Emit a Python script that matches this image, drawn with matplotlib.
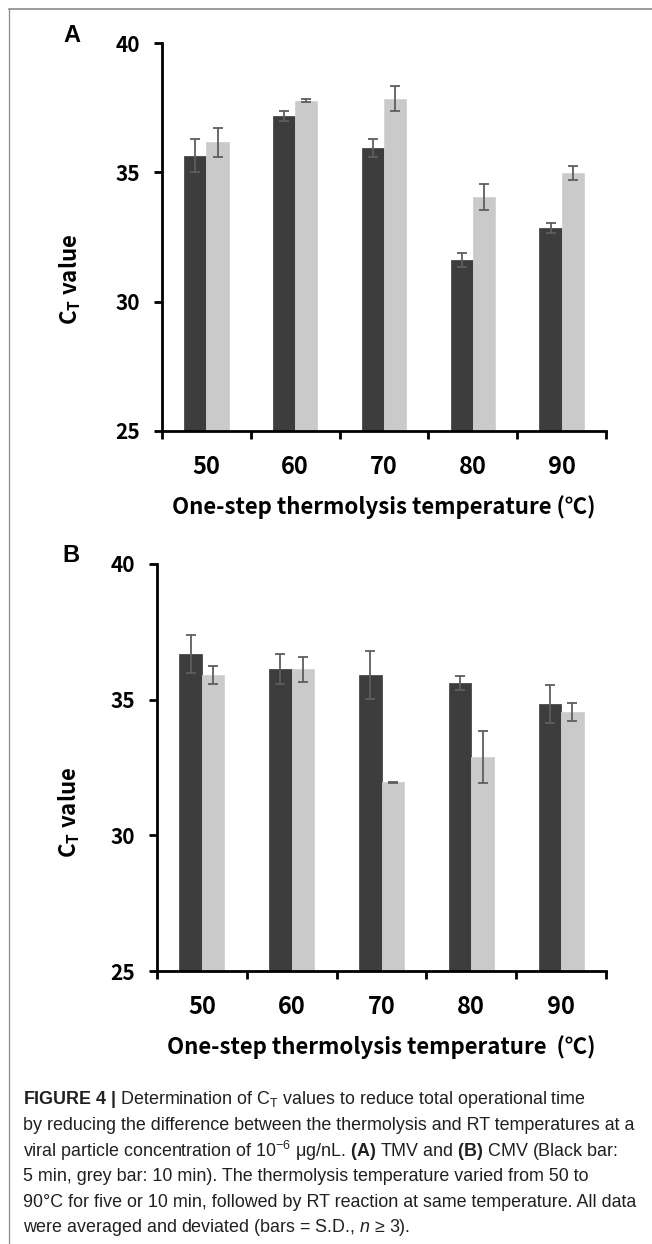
import matplotlib
matplotlib.use("Agg")
import matplotlib.pyplot as plt
import numpy as np
from matplotlib.lines import Line2D

# ---- data ----
temps = ["50", "60", "70", "80", "90"]

# panel A: TMV
a_5min = [35.65, 37.19, 35.94, 31.61, 32.86]
a_5min_sd = [0.62, 0.20, 0.33, 0.27, 0.19]
a_10min = [36.16, 37.77, 37.85, 34.03, 34.98]
a_10min_sd = [0.57, 0.05, 0.47, 0.50, 0.28]

# panel B: CMV
b_5min = [36.69, 36.13, 35.91, 35.63, 34.84]
b_5min_sd = [0.69, 0.54, 0.90, 0.26, 0.69]
b_10min = [35.91, 36.12, 31.95, 32.88, 34.56]
b_10min_sd = [0.33, 0.47, 0.03, 0.96, 0.33]

DARK = "#3d3d3d"
LIGHT = "#cacaca"
ERR = "#5e5e5e"
CHART_FONT = ["Noto Sans CJK KR", "DejaVu Sans"]

plt.rcParams["mathtext.fontset"] = "custom"
plt.rcParams["mathtext.rm"] = "Liberation Sans"
plt.rcParams["mathtext.it"] = "Liberation Sans:italic"
plt.rcParams["mathtext.bf"] = "Liberation Sans:bold"

W, H = 652, 1244
fig = plt.figure(figsize=(W / 100, H / 100), dpi=100)


def px_axes(left, right, top, bottom):
    return fig.add_axes([left / W, 1 - bottom / H, (right - left) / W, (bottom - top) / H])


def draw_panel(ax, black, black_sd, grey, grey_sd, xlabel, ylabel_x, xlabel_pad):
    x = np.arange(len(temps))
    w = 0.25
    ax.bar(x - w / 2, black, w, color=DARK, edgecolor="#4a4a4a", linewidth=0.6, zorder=2)
    ax.bar(x + w / 2, grey, w, color=LIGHT, edgecolor="#d2d2d2", linewidth=0.6, zorder=2)
    ekw = dict(fmt="none", ecolor=ERR, elinewidth=1.3, capsize=3.3, capthick=1.3, zorder=3)
    ax.errorbar(x - w / 2, black, yerr=black_sd, **ekw)
    ax.errorbar(x + w / 2, grey, yerr=grey_sd, **ekw)

    ax.set_xlim(-0.5, len(temps) - 0.5)
    ax.set_ylim(25, 40)
    ax.set_yticks([25, 30, 35, 40])
    for sp in ["top", "right"]:
        ax.spines[sp].set_visible(False)
    for sp in ["left", "bottom"]:
        ax.spines[sp].set_linewidth(2.0)
        ax.spines[sp].set_color("black")

    # tick marks on category boundaries, labels at category centres
    ax.set_xticks(np.arange(-0.5, len(temps), 1.0))
    ax.set_xticklabels([])
    ax.set_xticks(x, minor=True)
    ax.set_xticklabels(temps, minor=True, fontfamily=CHART_FONT,
                       fontweight="bold", fontsize=17)
    ax.tick_params(axis="x", which="major", direction="out", length=5.5, width=2.0)
    ax.tick_params(axis="x", which="minor", length=0, pad=17)
    ax.tick_params(axis="y", direction="out", length=5.5, width=2.0, pad=10)
    for lab in ax.get_yticklabels():
        lab.set_fontfamily(CHART_FONT)
        lab.set_fontweight("bold")
        lab.set_fontsize(15)

    ax.set_xlabel(xlabel, fontfamily=CHART_FONT, fontweight="bold", fontsize=16,
                  labelpad=xlabel_pad)
    ax.set_ylabel(r"C$_\mathregular{T}$ value", fontfamily=CHART_FONT,
                  fontweight="bold", fontsize=16)
    ax.yaxis.set_label_coords(ylabel_x, 0.39)


ax_a = px_axes(162, 606, 43, 431)
draw_panel(ax_a, a_5min, a_5min_sd, a_10min, a_10min_sd,
           "One-step thermolysis temperature (\u2103)", -0.178, 12)

ax_b = px_axes(157, 606, 564, 971)
draw_panel(ax_b, b_5min, b_5min_sd, b_10min, b_10min_sd,
           "One-step thermolysis temperature  (\u2103)", -0.167, 12)

fig.text(72 / W, 1 - 35 / H, "A", fontfamily="Liberation Sans", fontweight="bold",
         fontsize=17, ha="center", va="center")
fig.text(71 / W, 1 - 555 / H, "B", fontfamily="Liberation Sans", fontweight="bold",
         fontsize=17, ha="center", va="center")

# frame lines at top and left
fig.add_artist(Line2D([9 / W, 1], [1 - 9 / H, 1 - 9 / H], color="#8a8a8a", linewidth=1.2))
fig.add_artist(Line2D([9 / W, 9 / W], [0, 1 - 9 / H], color="#8a8a8a", linewidth=0.9))

# caption
caption = [
    r"$\mathbf{FIGURE\ 4\ |}$ Determination of C$_\mathrm{T}$ values to reduce total operational time",
    "by reducing the difference between the thermolysis and RT temperatures at a",
    r"viral particle concentration of 10$^{-6}$ μg/nL. $\mathbf{(A)}$ TMV and $\mathbf{(B)}$ CMV (Black bar:",
    "5 min, grey bar: 10 min). The thermolysis temperature varied from 50 to",
    "90°C for five or 10 min, followed by RT reaction at same temperature. All data",
    r"were averaged and deviated (bars = S.D., $\mathit{n}$ ≥ 3).",
]
y0 = 1100
for i, line in enumerate(caption):
    fig.text(23 / W, 1 - (y0 + i * 25.6) / H, line, fontfamily="Liberation Sans",
             fontsize=12.9, color="#231f20", ha="left", va="center")

fig.savefig("out.png", dpi=100)
